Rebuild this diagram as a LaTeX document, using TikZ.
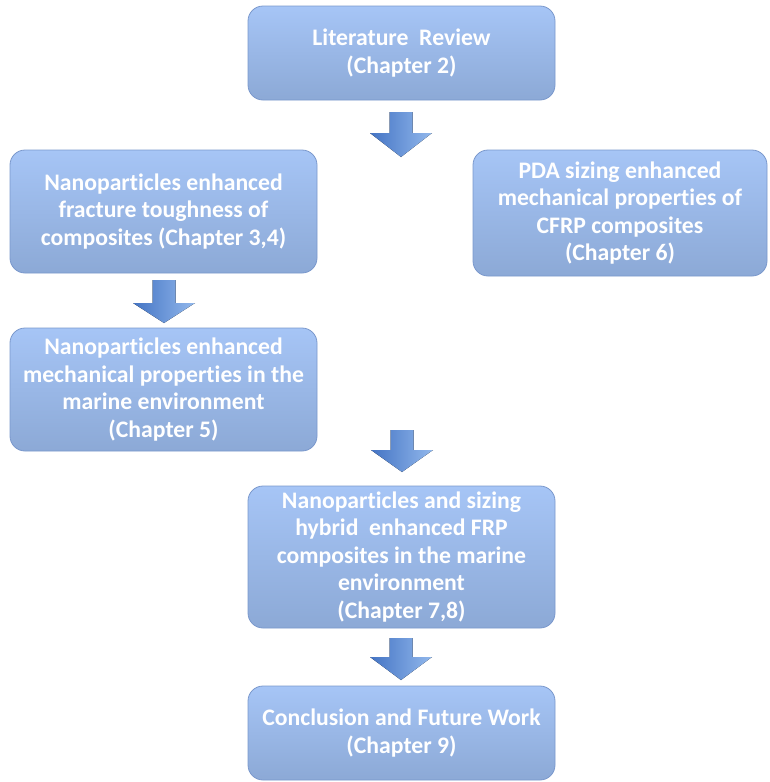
\documentclass[tikz,border=0pt]{standalone}
\usepackage{fontspec}
\setmainfont[Ligatures=NoCommon]{Carlito}
\definecolor{boxtop}{RGB}{166,197,246}
\definecolor{boxbot}{RGB}{140,169,214}
\definecolor{boxedge}{RGB}{122,152,204}
\definecolor{arrdark}{RGB}{68,116,196}
\definecolor{arrlight}{RGB}{146,184,236}
\tikzset{
  stage/.style={rectangle, rounded corners=15pt, draw=boxedge, line width=0.8pt,
    top color=boxtop, bottom color=boxbot, text=white, align=center, inner sep=0pt,
    font=\fontsize{23.7}{27.5}\selectfont\bfseries},
  blockarrow/.style={left color=arrdark, right color=arrlight, draw=none}
}
\newcommand{\bigdownarrow}[4]{%
  \fill[blockarrow] (#1-11.5,#2) -- (#1+11.5,#2) -- (#1+11.5,#3) -- (#1+31,#3)
    -- (#1,#4) -- (#1-31,#3) -- (#1-11.5,#3) -- cycle;}
\begin{document}
\begin{tikzpicture}[x=1pt,y=-1pt]
\useasboundingbox (0,0) rectangle (769,782);
\node[stage, minimum width=307pt, minimum height=94pt] (lit) at (401.5,53)
  {Literature\ \ Review\\(Chapter 2)};
\node[stage, minimum width=307pt, minimum height=123pt] (frac) at (163.5,211.5)
  {Nanoparticles enhanced\\fracture toughness of\\composites (Chapter 3,4)};
\node[stage, minimum width=294pt, minimum height=126pt] (pda) at (620,213)
  {PDA sizing enhanced\\mechanical properties of\\CFRP composites\\(Chapter 6)};
\node[stage, minimum width=307pt, minimum height=123pt] (mar) at (163.5,389.5)
  {Nanoparticles enhanced\\mechanical properties in the\\marine environment\\(Chapter 5)};
\node[stage, minimum width=307pt, minimum height=142pt] (hyb) at (401.5,557)
  {Nanoparticles and sizing\\hybrid\ \ enhanced FRP\\composites in the marine\\environment\\(Chapter 7,8)};
\node[stage, minimum width=307pt, minimum height=94pt] (conc) at (401.5,733)
  {Conclusion and Future Work\\(Chapter 9)};
\bigdownarrow{401}{112}{133}{157}
\bigdownarrow{164}{280}{303}{323}
\bigdownarrow{402}{430}{450}{472}
\bigdownarrow{401}{638}{657}{680}
\end{tikzpicture}
\end{document}
